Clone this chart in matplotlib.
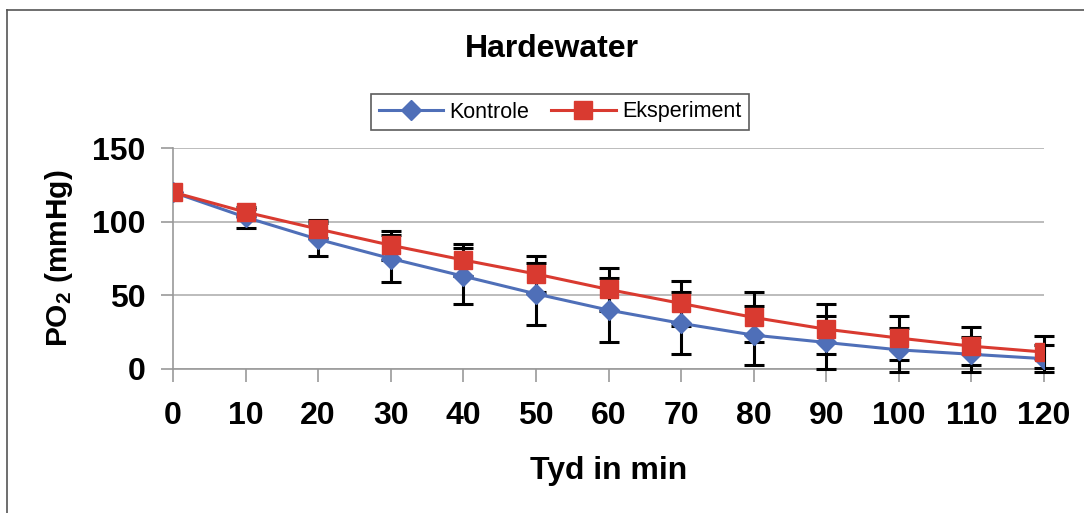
import numpy as np
import matplotlib
matplotlib.use("Agg")
from matplotlib import pyplot as plt
from matplotlib.lines import Line2D

plt.rcParams['font.family'] = ['Liberation Sans', 'DejaVu Sans']
plt.rcParams['mathtext.fontset'] = 'custom'
plt.rcParams['mathtext.bf'] = 'Liberation Sans:bold'
plt.rcParams['mathtext.rm'] = 'Liberation Sans:bold'
plt.rcParams['mathtext.default'] = 'bf'

# data
tyd = [0, 10, 20, 30, 40, 50, 60, 70, 80, 90, 100, 110, 120]
kontrole = [120, 103, 88, 75, 63, 51, 40, 31, 23, 18, 13, 10, 7]
kontrole_err = [0, 7, 11, 16, 19, 21, 22, 21, 20, 18, 15, 12, 9]
eksperiment = [120, 106.5, 95, 84, 74, 64.5, 54, 44.5, 35, 27, 21, 15.5, 11.5]
eksperiment_err = [0, 2, 6, 10, 11, 12, 14.5, 15.5, 17, 17, 15, 13, 11]

blue = '#4F6FB8'
red = '#D93A30'

fig = plt.figure(figsize=(10.84, 5.13), dpi=100)
ax = fig.add_axes([173 / 1084, 144 / 513, 871 / 1084, 221 / 513])

# chart frame (top and left edges visible in the scan)
fig.add_artist(Line2D([7 / 1084, 7 / 1084], [0, 1 - 10 / 513], color='#555555', lw=1.2))
fig.add_artist(Line2D([7 / 1084, 1], [1 - 10 / 513, 1 - 10 / 513], color='#555555', lw=1.2))

# no bar at t=0
ax.errorbar(tyd, kontrole, yerr=kontrole_err, fmt='none', ecolor='black', errorevery=(1, 1),
            elinewidth=2.2, capsize=7, capthick=2.2, zorder=3, clip_on=False)
ax.errorbar(tyd, eksperiment, yerr=eksperiment_err, fmt='none', ecolor='black', errorevery=(1, 1),
            elinewidth=2.2, capsize=7, capthick=2.2, zorder=3, clip_on=False)
ax.plot(tyd, kontrole, color=blue, lw=2.2, marker='D', markersize=10,
        markerfacecolor=blue, markeredgecolor=blue, label='Kontrole', zorder=4)
ax.plot(tyd, eksperiment, color=red, lw=2.2, marker='s', markersize=12.5,
        markerfacecolor=red, markeredgecolor=red, label='Eksperiment', zorder=5)

ax.set_xlim(0, 120)
ax.set_ylim(0, 150)
ax.set_xticks(tyd)
ax.set_yticks([0, 50, 100, 150])
ax.yaxis.grid(True, color='#b0b0b0', lw=1.2)
ax.set_axisbelow(True)
for s in ['top', 'right']:
    ax.spines[s].set_visible(False)
for s in ['left', 'bottom']:
    ax.spines[s].set_color('#999999')
    ax.spines[s].set_linewidth(1.2)
ax.tick_params(axis='both', direction='out', length=9, width=1.2, color='#999999',
               labelsize=23, pad=11)
ax.tick_params(axis='x', pad=14)
for lab in ax.get_xticklabels() + ax.get_yticklabels():
    lab.set_fontweight('bold')

ax.set_xlabel('Tyd in min', fontsize=23, fontweight='bold', labelpad=18)
ax.set_ylabel('PO$_2$ (mmHg)', fontsize=21.5, fontweight='bold', labelpad=12)
fig.text(552 / 1084, 1 - 49 / 513, 'Hardewater', ha='center', va='center',
         fontsize=23, fontweight='bold')

leg = ax.legend(loc='center', bbox_to_anchor=(560 / 1084, 1 - 112 / 513),
                bbox_transform=fig.transFigure, ncol=2, fontsize=15.5,
                frameon=True, fancybox=False, handlelength=3, columnspacing=1.0,
                handletextpad=0.3, borderpad=0.35)
leg.get_frame().set_edgecolor('#333333')
leg.get_frame().set_linewidth(1.2)

fig.savefig('out.png', dpi=100)
